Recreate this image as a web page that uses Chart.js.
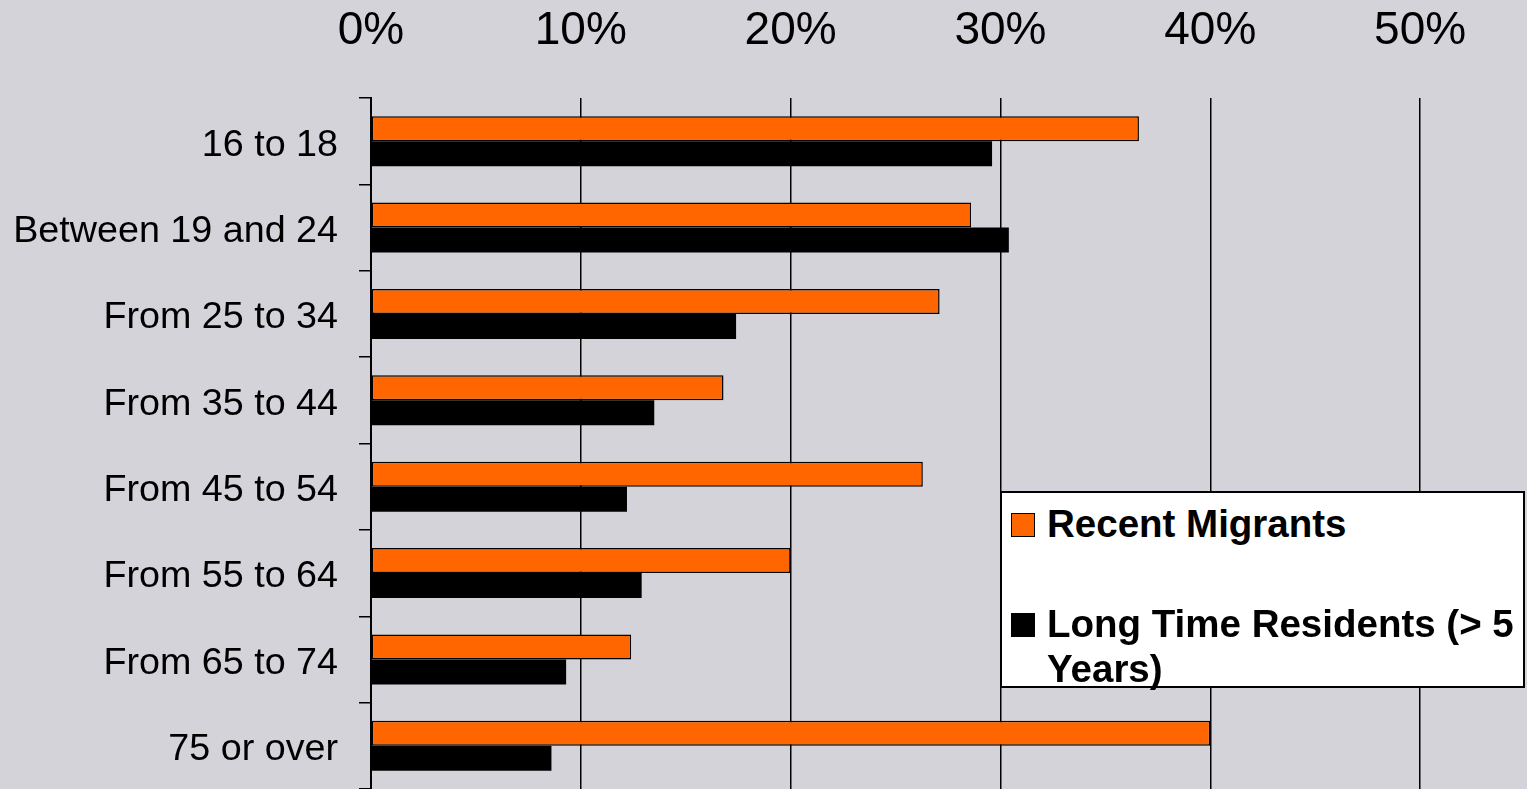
<!DOCTYPE html>
<html>
<head>
<meta charset="utf-8">
<script src="https://cdn.jsdelivr.net/npm/chart.js@4.4.0/dist/chart.umd.min.js"></script>
<style>
  body { margin: 0; background: #d4d3da; }
  #wrap { position: relative; width: 1527px; height: 789px; }
  #legend {
    position: absolute; left: 1000px; top: 491px; width: 525px; height: 197px;
    box-sizing: border-box; background: #fff; border: 2px solid #000;
    font-family: "Liberation Sans", Arial, sans-serif; font-weight: bold; font-size: 38.5px;
  }
  .item { position: absolute; left: 45px; width: 474px; line-height: 45px; color: #000; }
  .box { position: absolute; left: -36px; top: 12px; width: 24px; height: 24px; box-sizing: border-box; border: 1.5px solid #000; }
</style>
</head>
<body>
<div id="wrap">
  <canvas id="chart"></canvas>
  <div id="legend"></div>
</div>
<script>
var categorias = ["16 to 18", "Between 19 and 24", "From 25 to 34", "From 35 to 44",
                  "From 45 to 54", "From 55 to 64", "From 65 to 74", "75 or over"];
var recientes = [36.6, 28.6, 27.1, 16.8, 26.3, 20.0, 12.4, 40.0];
var residentes = [29.6, 30.4, 17.4, 13.5, 12.2, 12.9, 9.3, 8.6];
var nombres = ["Recent Migrants", "Long Time Residents (> 5 Years)"];
var ticksX = [0, 10, 20, 30, 40, 50];

var fuente = "'Liberation Sans', Arial, sans-serif";

var datos = {
    labels: categorias,
    datasets: [{
            label: nombres[0],
            backgroundColor: "#ff6600",
            borderColor: "#000",
            borderWidth: 1.5,
            data: recientes
        },
        {
            label: nombres[1],
            backgroundColor: "#000",
            borderColor: "#000",
            borderWidth: 0,
            data: residentes
        }
    ]
};

var canvas = document.getElementById('chart').getContext('2d');
window.bar = new Chart(canvas, {
    type: "bar",
    data: datos,
    options: {
        indexAxis: 'y',
        responsive: true,
        maintainAspectRatio: false,
        animation: false,
        layout: { padding: { left: 0, right: 2, top: 0, bottom: 0 } },
        datasets: {
            bar: { categoryPercentage: 0.58, barPercentage: 1.0, borderSkipped: false }
        },
        plugins: {
            legend: { display: false },
            tooltip: { enabled: false }
        },
        scales: {
            x: {
                position: 'top',
                min: 0,
                max: 55,
                afterBuildTicks: function (scale) {
                    scale.ticks = ticksX.map(function (v) { return { value: v }; });
                },
                afterFit: function (scale) {
                    scale.height = 98;
                    scale.paddingLeft = 0;
                    scale.paddingRight = 0;
                },
                border: { display: false },
                grid: { color: "#000", lineWidth: 1.5, drawTicks: false },
                ticks: {
                    color: "#000",
                    padding: 39,
                    font: { family: fuente, size: 46 },
                    callback: function (v) { return v + "%"; }
                }
            },
            y: {
                afterFit: function (scale) {
                    scale.width = 371;
                    scale.paddingTop = 0;
                    scale.paddingBottom = 0;
                },
                border: { display: true, color: "#000", width: 2 },
                grid: { drawOnChartArea: false, color: "#000", lineWidth: 1.5, tickLength: 12 },
                ticks: {
                    color: "#000",
                    padding: 21,
                    labelOffset: 4,
                    font: { family: fuente, size: 37.7 }
                }
            }
        }
    }
});

// leyenda dentro del grafico
var leyenda = document.getElementById('legend');
var tops = [8, 108];
datos.datasets.forEach(function (ds, i) {
    var item = document.createElement('div');
    item.className = 'item';
    item.style.top = tops[i] + 'px';
    var caja = document.createElement('span');
    caja.className = 'box';
    caja.style.background = ds.backgroundColor;
    item.appendChild(caja);
    item.appendChild(document.createTextNode(ds.label));
    leyenda.appendChild(item);
});
</script>
</body>
</html>
